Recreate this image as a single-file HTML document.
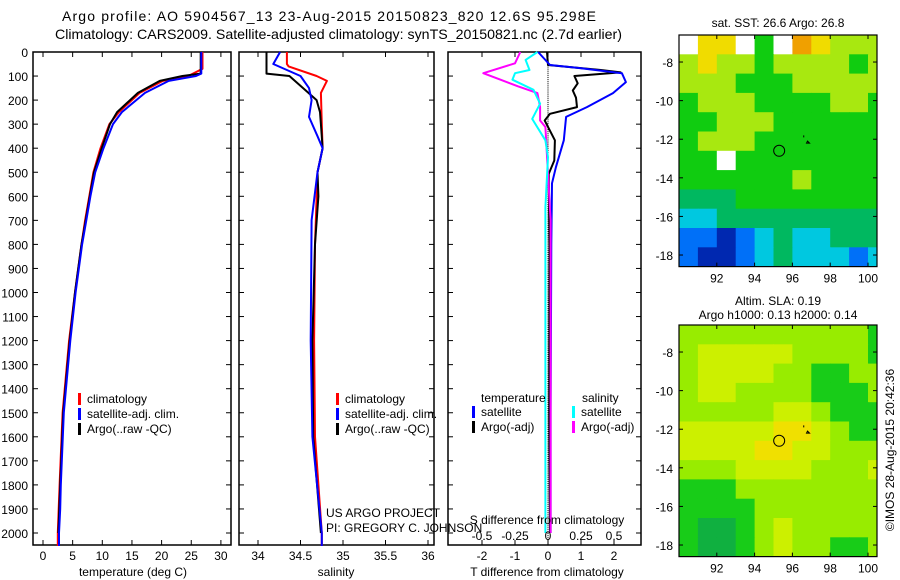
<!DOCTYPE html>
<html><head><meta charset="utf-8"><style>
body{margin:0;background:#fff;}
svg{display:block;font-family:"Liberation Sans",sans-serif;}
</style></head><body>
<svg id="c" width="900" height="580" viewBox="0 0 900 580" xmlns="http://www.w3.org/2000/svg">
<text x="62" y="21" font-size="14" textLength="534" lengthAdjust="spacing">Argo profile: AO 5904567_13 23-Aug-2015 20150823_820 12.6S 95.298E</text>
<text x="55" y="39" font-size="14" textLength="567" lengthAdjust="spacingAndGlyphs">Climatology: CARS2009. Satellite-adjusted climatology: synTS_20150821.nc (2.7d earlier)</text>
<g id="g"></g>
</svg>
<script>
// ---- data ----
const depthTicks=[0,100,200,300,400,500,600,700,800,900,1000,1100,1200,1300,1400,1500,1600,1700,1800,1900,2000];
const tTicks=[0,5,10,15,20,25,30];
const sTicks=[34,34.5,35,35.5,36];
const tdTicks=[-2,-1,0,1,2];
const sdTicks=[-0.5,-0.25,0,0.25,0.5];
const tdTickLabels=['-2','-1','0','1','2'];
const sdTickLabels=['-0.5','-0.25','0','0.25','0.5'];

const argoTDepth=[0,90,100,120,170,250,300,400,500,600,700,800,1000,1200,1500,1800,2000];
const argoT=[26.6,26.6,23.5,19.7,16,12.5,11.3,9.9,8.6,7.9,7.2,6.5,5.4,4.5,3.4,2.9,2.6];
const climTDepth=[0,70,100,120,170,250,300,400,500,600,700,800,1000,1200,1500,1800,2000,2054];
const climT=[26.9,26.9,24.5,20.2,16.3,12.8,11.2,9.7,8.5,7.8,7.1,6.5,5.4,4.4,3.3,2.8,2.5,2.5];
const satTDepth=[0,90,100,120,170,250,300,400,500,600,700,800,1000,1200,1500,1800,1900,2000,2054];
const satT=[26.7,26.7,25.8,21.2,17.2,13.3,11.8,10.2,8.8,8.0,7.3,6.6,5.5,4.6,3.5,3.0,2.9,2.7,2.7];

const argoSDepth=[0,90,100,150,200,250,300,400,500,600,800,1200,1600,2000];
const argoS=[34.1,34.1,34.37,34.53,34.69,34.73,34.74,34.76,34.7,34.71,34.67,34.64,34.65,34.74];
const climSDepth=[0,50,60,100,120,170,300,400,500,800,1200,1600,2000,2054];
const climS=[34.34,34.34,34.36,34.69,34.81,34.74,34.75,34.76,34.7,34.67,34.66,34.67,34.75,34.75];
const satSDepth=[0,50,100,150,200,270,350,400,500,700,1200,1600,2000,2054];
const satS=[34.26,34.18,34.5,34.6,34.63,34.6,34.7,34.76,34.7,34.63,34.62,34.64,34.75,34.75];

const satTdDepth=[0,54,67,88,125,171,229,270,367,479,546,800,1500,2000];
const satTd=[-0.3,0.06,0.97,2.24,2.36,1.97,1.18,0.55,0.48,0.24,0.12,0.1,0.08,0.08];
const argoTdDepth=[0,54,75,85,100,130,160,190,229,257,285,367,451,507,800,1500,2000];
const argoTd=[-0.03,0.0,1.6,2.2,0.8,0.9,0.75,0.85,0.88,0.06,-0.1,0.21,0.19,0.02,0.05,0.04,0.06];
const satSdDepth=[0,33,75,88,115,157,215,278,367,437,646,1200,2000];
const satSd=[-0.08,-0.17,-0.14,-0.25,-0.27,-0.11,-0.06,-0.12,-0.02,0,-0.02,-0.02,-0.02];
const argoSdDepth=[0,47,88,115,142,171,229,285,312,410,700,1200,2000];
const argoSd=[-0.21,-0.25,-0.49,-0.36,-0.23,-0.08,-0.06,-0.06,-0.02,-0.01,0.02,0.02,0.02];

const mapLons=[90,91,92,93,94,95,96,97,98,99,100];
const sstGrid=[
[0,7,7,0,5,0,8,7,6,6,6],
[6,7,6,6,5,6,6,6,6,5,6],
[6,6,6,5,5,5,6,6,6,6,6],
[5,6,6,6,5,5,5,5,6,6,5],
[5,5,6,6,6,5,5,5,5,5,5],
[5,6,6,6,5,5,5,5,5,5,5],
[5,5,0,5,5,5,5,5,5,5,5],
[5,5,5,5,5,5,6,5,5,5,5],
[4,4,4,5,5,5,5,5,5,5,5],
[3,3,4,4,4,4,4,4,4,4,4],
[2,2,1,2,3,4,3,3,4,4,4],
[2,1,1,2,3,4,3,3,3,2,3]];
const slaGrid=[
[6,6,6,6,6,6,6,6,6,6,5],
[6,6.5,6.5,6.5,6.5,6.5,6,6,6,6,5],
[6,6.5,6.5,6.5,6.5,6,6,5,5,6,6],
[6,6.5,6.5,6,6,6,6,5,5,5,6],
[6,6,6,6,6,6.5,6.5,6,5,5,5],
[6.5,6.5,6.5,6.5,6.5,7,7,6.5,6,5,5],
[6.5,6.5,6.5,6.5,7,7,6.5,6.5,6,6,6],
[6,6,6,6.5,6.5,6.5,6.5,6,6,6,6.5],
[5,5,5,6,6,6,6,6,6,6,6],
[5,5,5,5,6,6,6,6,6,6,6],
[5,4.5,4.5,5,6,6.5,6,6,6,6,6],
[5,4.5,4.5,5,6,6.5,6,6,5,5,6]];
const lonTicks=[92,94,96,98,100];
const latTicks=[-8,-10,-12,-14,-16,-18];
const floatLon=95.3, floatLat=-12.6;

// ---- helpers ----
const NS='http://www.w3.org/2000/svg';
const G=document.getElementById('g');
function mk(tag,at,parent){const e=document.createElementNS(NS,tag);for(const k in at)e.setAttribute(k,at[k]);(parent||G).appendChild(e);return e;}
function txt(x,y,s,sz,anchor,parent){const t=mk('text',{x:x,y:y,'font-size':sz,'text-anchor':anchor||'middle'},parent);t.textContent=s;return t;}

const Y0=52,Y1=545;
const yD=d=>Y0+d*0.2405;
const xT=t=>43+t*5.93;
const xS=s=>258+(s-34)*85;
const xTd=v=>548+v*33;
const xSd=v=>548+v*132;

function frame(x0,x1,name){
  const r=mk('rect',{x:x0,y:Y0,width:x1-x0,height:Y1-Y0,fill:'none',stroke:'#000','stroke-width':1.5});
  
  
}
function depthTickMarks(x0,x1){
  depthTicks.forEach(d=>{
    const y=yD(d);
    mk('line',{x1:x0,y1:y,x2:x0+5,y2:y,stroke:'#000'});
    mk('line',{x1:x1-5,y1:y,x2:x1,y2:y,stroke:'#000'});
  });
}
function xTickMarks(vals,fx){
  vals.forEach(v=>{const x=fx(v);
    mk('line',{x1:x,y1:Y0,x2:x,y2:Y0+5,stroke:'#000'});
    mk('line',{x1:x,y1:Y1-5,x2:x,y2:Y1,stroke:'#000'});});
}
function line(xs,ds,fx,color,name){
  let p='';
  for(let i=0;i<xs.length;i++){p+=(i?'L':'M')+fx(xs[i]).toFixed(1)+','+yD(ds[i]).toFixed(1);}
  const e=mk('path',{d:p,fill:'none',stroke:color,'stroke-width':2,'stroke-linejoin':'round'});
  
  
}
function legend(x,y,items,name){
  const g=mk('g',{});
  
  
  items.forEach((it,i)=>{
    mk('rect',{x:x,y:y+i*15-10,width:3,height:12,fill:it[0]},g);
    txt(x+9,y+i*15,it[1],12,'start',g);
  });
}

// ---- panel 1 temperature ----
frame(33,231,'temperature-panel');
depthTickMarks(33,231);
xTickMarks(tTicks,xT);
depthTicks.forEach(d=>{const t=txt(28,yD(d)+5,String(d),12,'end');
  
  });
tTicks.forEach(v=>{const t=txt(xT(v),560,String(v),12);
  
  });
line(climT,climTDepth,xT,'#ff0000','temp-climatology-line');
line(argoT,argoTDepth,xT,'#000000','temp-argo-line');
line(satT,satTDepth,xT,'#0000ff','temp-satellite-line');
legend(78,403,[['#f00','climatology'],['#00f','satellite-adj. clim.'],['#000','Argo(..raw -QC)']],'temperature-legend');
const tl=txt(133,576,'temperature (deg C)',12);



// ---- panel 2 salinity ----
frame(239,434,'salinity-panel');
depthTickMarks(239,434);
xTickMarks(sTicks,xS);
sTicks.forEach(v=>{const t=txt(xS(v),560,String(v),12);
  
  });
line(climS,climSDepth,xS,'#ff0000','sal-climatology-line');
line(argoS,argoSDepth,xS,'#000000','sal-argo-line');
line(satS,satSDepth,xS,'#0000ff','sal-satellite-line');
legend(336,403,[['#f00','climatology'],['#00f','satellite-adj. clim.'],['#000','Argo(..raw -QC)']],'salinity-legend');
const sl=txt(336,576,'salinity',12);


const c1=txt(326,517,'US ARGO PROJECT',12,'start');


const c2=txt(326,532,'PI: GREGORY C. JOHNSON',12,'start');



// ---- panel 3 differences ----
frame(448,641,'difference-panel');
depthTickMarks(448,641);
xTickMarks(tdTicks,xTd);
for(let d=0;d<2050;d+=8){mk('rect',{x:547.5,y:yD(d),width:1,height:1,fill:'#000'});}
tdTicks.forEach((v,i)=>{const t=txt(xTd(v),560,tdTickLabels[i],12);
  
  });
line(argoTd,argoTdDepth,xTd,'#000000','t-diff-argo-line');
line(satTd,satTdDepth,xTd,'#0000ff','t-diff-satellite-line');
line(argoSd,argoSdDepth,xSd,'#ff00ff','s-diff-argo-line');
line(satSd,satSdDepth,xSd,'#00ffff','s-diff-satellite-line');
sdTicks.forEach((v,i)=>{const t=txt(xSd(v),540,sdTickLabels[i],12);
  
  });
const sdt=txt(547,524,'S difference from climatology',12);


const tdt=txt(547,576,'T difference from climatology',12);


const lh1=txt(481,402,'temperature',12,'start');


const lh2=txt(582,402,'salinity',12,'start');


legend(472,416,[['#00f','satellite'],['#000','Argo(-adj)']],'t-diff-legend');
legend(572,416,[['#0ff','satellite'],['#f0f','Argo(-adj)']],'s-diff-legend');

// ---- maps ----
const MX0=679,MX1=877;
const mx=lon=>MX0+(lon-90)*18.9;
function mapPanel(top,grid,pal,name,title1,title2){
  const my=lat=>top+(-6.6-lat)*19.3;
  const g=mk('g',{});
  
  
  const cp='clip'+top;
  const cl=mk('clipPath',{id:cp},g);
  mk('rect',{x:MX0,y:top,width:MX1-MX0,height:my(-18.6)-top},cl);
  const cg=mk('g',{'clip-path':'url(#'+cp+')'},g);
  grid.forEach((row,r)=>{
    row.forEach((v,c)=>{
      const lon=mapLons[c], lat=-6.6-r;
      const cell=mk('rect',{x:mx(lon).toFixed(1),y:my(lat).toFixed(1),width:19.4,height:19.8,fill:pal(v)},cg);
      
      
    });
  });
  const bot=my(-18.6);
  mk('rect',{x:MX0,y:top,width:MX1-MX0,height:bot-top,fill:'none',stroke:'#000','stroke-width':1.2},g);
  lonTicks.forEach(l=>{const x=mx(l);
    mk('line',{x1:x,y1:top,x2:x,y2:top+4,stroke:'#000'},g);
    mk('line',{x1:x,y1:bot-4,x2:x,y2:bot,stroke:'#000'},g);
    txt(x,bot+16,String(l),12,'middle',g);});
  latTicks.forEach(l=>{const y=my(l);
    mk('line',{x1:MX0,y1:y,x2:MX0+4,y2:y,stroke:'#000'},g);
    mk('line',{x1:MX1-4,y1:y,x2:MX1,y2:y,stroke:'#000'},g);
    txt(673,y+5,String(l),12,'end',g);});
  mk('circle',{cx:mx(floatLon),cy:my(floatLat),r:5.5,fill:'none',stroke:'#000','stroke-width':1},g);
  mk('path',{d:`M${mx(96.6)},${my(-11.8)}v2 M${mx(96.8)},${my(-12.1)}l2,2h-3z`,stroke:'#000','stroke-width':1,fill:'none'},g);
  if(title1)txt(778,top-(title2?20:8),title1,12,'middle',g);
  if(title2)txt(778,top-6,title2,12,'middle',g);
}
const sstPal=v=>({0:'#ffffff',1:'#0028b0',2:'#0070f8',3:'#00c8e0',4:'#00b860',5:'#10cc10',6:'#a8e810',7:'#f0dc00',8:'#f0a000'})[v];
const slaPal=v=>({4.5:'#10b040',5:'#18cc18',6:'#98ec00',6.5:'#ccf000',7:'#f0e000'})[v];
mapPanel(35,sstGrid,sstPal,'sst-map','sat. SST: 26.6 Argo: 26.8',null);
mapPanel(325,slaGrid,slaPal,'sla-map','Altim. SLA: 0.19','Argo h1000: 0.13 h2000: 0.14');
const ts=txt(0,0,'©IMOS 28-Aug-2015 20:42:36',12,'middle');
ts.setAttribute('transform','translate(894,450) rotate(-90)');


</script>
</body></html>
